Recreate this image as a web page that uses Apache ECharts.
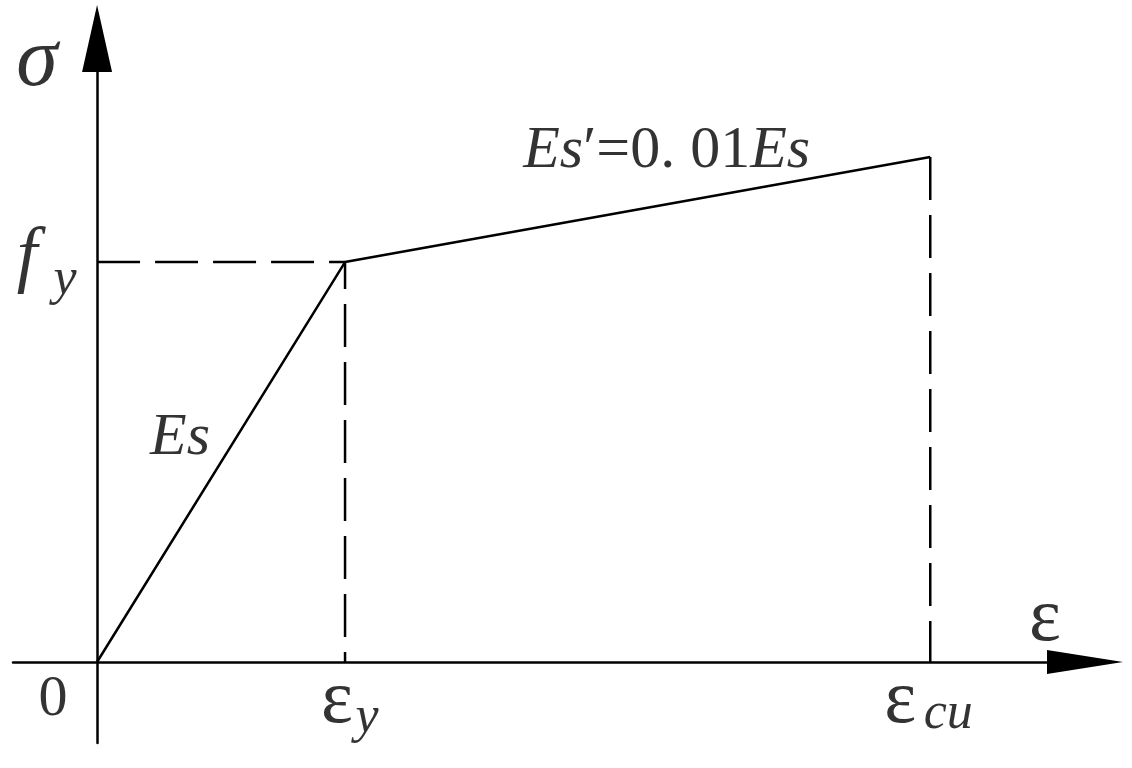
<!DOCTYPE html>
<html><head><meta charset="utf-8">
<script src="https://cdn.jsdelivr.net/npm/echarts@6/dist/echarts.min.js"></script>
<style>html,body{margin:0;padding:0;background:#fff}#c{width:1132px;height:768px}</style>
</head><body><div id="c"></div>
<script>
// Key points of the bilinear steel model (schematic units: eps_y = 1, f_y = 1)
const pointNames = ['0', 'yield', 'ultimate'];
const strain = [0, 1.0, 3.36];
const stress = [0, 1.0, 1.2625];
// Axis extents (schematic)
const xRange = [-0.339, 3.984];
const yRange = [-0.2025, 1.559];
// Text labels
const labelSigma = 'σ';
const labelEps = 'ε';
const labelFy = ['f', 'y'];
const labelEy = ['ε', 'y'];
const labelEcu = ['ε', 'cu'];
const labelEs = 'Es';
const labelEsP = ['Es', '′=0. 01', 'Es'];

const FONT = '"Liberation Serif","DejaVu Serif",serif';
const chart = echarts.init(document.getElementById('c'));

function ann(value, text, offset, size, italic, rich) {
  const label = {
    show: true, position: 'inside', formatter: text, offset: offset,
    fontSize: size, fontStyle: italic ? 'italic' : 'normal',
    fontFamily: FONT, color: '#000', textBorderWidth: 0
  };
  if (rich) label.rich = rich;
  return {value: value, label: label};
}

const mid = (a, b) => (a + b) / 2;
const annData = [
  ann([0, yRange[1]], labelSigma, [-60, 24], 84, true),
  ann([0, stress[1]], labelFy[0], [-70, -4], 74, true),
  ann([0, stress[1]], labelFy[1], [-32, 18], 52, true),
  ann([mid(strain[0], strain[1]), mid(stress[0], stress[1])], labelEs, [-41, -24], 60, true),
  ann([mid(strain[1], strain[2]), mid(stress[1], stress[2])],
      '{i|' + labelEsP[0] + '}{n|' + labelEsP[1] + '}{i|' + labelEsP[2] + '}', [29, -58], 60, false,
      {i: {fontSize: 60, fontStyle: 'italic', fontFamily: FONT, color: '#000'},
       n: {fontSize: 60, fontFamily: FONT, color: '#000'}}),
  ann([xRange[1], 0], labelEps, [-40, -42], 76, false),
  ann([strain[0], 0], pointNames[0], [-44, 38], 58, false),
  ann([strain[1], 0], labelEy[0], [-8, 40], 76, false),
  ann([strain[1], 0], labelEy[1], [22, 56], 52, true),
  ann([strain[2], 0], labelEcu[0], [-30, 40], 76, false),
  ann([strain[2], 0], labelEcu[1], [18, 52], 52, true)
];

const axisCommon = {
  type: 'value',
  axisTick: {show: false}, axisLabel: {show: false}, splitLine: {show: false}
};

chart.setOption({
  animation: false,
  backgroundColor: '#fff',
  grid: {left: 13, right: 47, top: 38.5, bottom: 25},
  xAxis: Object.assign({}, axisCommon, {
    min: xRange[0], max: xRange[1],
    axisLine: {show: true, onZero: true, symbol: ['none', 'triangle'], symbolSize: [24, 76],
      lineStyle: {color: '#000', width: 2.5}}
  }),
  yAxis: Object.assign({}, axisCommon, {
    min: yRange[0], max: yRange[1],
    axisLine: {show: true, onZero: true, symbol: ['none', 'triangle'], symbolSize: [30, 67],
      lineStyle: {color: '#000', width: 2.5}}
  }),
  series: [
    {type: 'line', symbol: 'none', silent: true,
     data: strain.map((x, i) => [x, stress[i]]),
     lineStyle: {color: '#000', width: 2.5}},
    {type: 'line', symbol: 'none', silent: true,
     data: [[strain[0], stress[1]], [strain[1], stress[1]], [strain[1], stress[0]]],
     lineStyle: {color: '#000', width: 2.5, type: [43, 15]}},
    {type: 'line', symbol: 'none', silent: true,
     data: [[strain[2], stress[2]], [strain[2], stress[0]]],
     lineStyle: {color: '#000', width: 2.5, type: [43, 15]}},
    {type: 'scatter', symbolSize: 1, clip: false, silent: true,
     itemStyle: {color: 'rgba(0,0,0,0)'}, data: annData}
  ]
});
</script></body></html>
